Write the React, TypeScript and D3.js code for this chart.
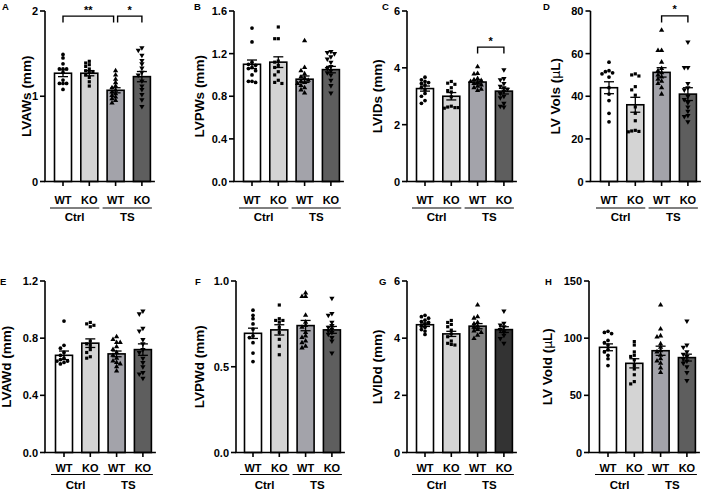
import React from "react";
import * as d3 from "d3";

const genotypes = ["WT", "KO", "WT", "KO"];
const conditions = ["Ctrl", "TS"];
const panelLetters = ["A", "B", "C", "D", "E", "F", "G", "H"];
const yLabels = ["LVAWs (mm)", "LVPWs (mm)", "LVIDs (mm)", "LV Vols (μL)", "LVAWd (mm)", "LVPWd (mm)", "LVIDd (mm)", "LV Vold (μL)"];
const yMax = [2, 1.6, 6, 80, 1.2, 1.0, 6, 150];
const yTicks = [[0, 1, 2], [0, 0.4, 0.8, 1.2, 1.6], [0, 2, 4, 6], [0, 20, 40, 60, 80], [0, 0.4, 0.8, 1.2], [0, 0.5, 1.0], [0, 2, 4, 6], [0, 50, 100, 150]];
const tickDecimals = [0, 1, 0, 0, 1, 1, 0, 0];

const means = [
  [1.27, 1.27, 1.07, 1.23],
  [1.10, 1.12, 0.96, 1.05],
  [3.27, 3.0, 3.5, 3.18],
  [44, 36, 51.2, 41],
  [0.68, 0.765, 0.69, 0.72],
  [0.695, 0.715, 0.74, 0.715],
  [4.47, 4.15, 4.42, 4.3],
  [92, 78, 89, 83],
];
const sems = [
  [0.04, 0.03, 0.03, 0.06],
  [0.04, 0.05, 0.03, 0.03],
  [0.09, 0.13, 0.07, 0.1],
  [2.8, 3.5, 2.2, 3.0],
  [0.03, 0.03, 0.02, 0.04],
  [0.03, 0.03, 0.03, 0.02],
  [0.06, 0.09, 0.09, 0.1],
  [3, 4, 4, 3],
];

const pointsA = [
  [1.49, 1.45, 1.38, 1.32, 1.32, 1.32, 1.28, 1.19, 1.15, 1.15, 1.15, 1.08],
  [1.41, 1.39, 1.37, 1.35, 1.32, 1.3, 1.29, 1.28, 1.25, 1.22, 1.17, 1.12],
  [1.3, 1.25, 1.2, 1.16, 1.12, 1.1, 1.07, 1.05, 1.03, 1.01, 0.99, 0.97, 0.95, 0.92],
  [1.57, 1.54, 1.48, 1.42, 1.38, 1.33, 1.28, 1.25, 1.18, 1.12, 1.08, 1.02, 0.96, 0.88],
];
const pointsB = [
  [1.44, 1.31, 1.12, 1.1, 1.09, 1.07, 1.06, 1.04, 1.0, 0.94, 0.94, 0.93],
  [1.45, 1.34, 1.34, 1.13, 1.12, 1.09, 1.07, 1.03, 1.0, 0.95, 0.93, 0.92],
  [1.32, 1.07, 1.04, 1.01, 0.98, 0.97, 0.95, 0.94, 0.93, 0.92, 0.9, 0.88, 0.86, 0.83],
  [1.22, 1.21, 1.2, 1.17, 1.15, 1.12, 1.08, 1.06, 1.04, 1.02, 1.0, 0.95, 0.9, 0.83],
];
const pointsC = [
  [3.67, 3.58, 3.52, 3.48, 3.45, 3.4, 3.3, 3.22, 3.1, 3.0, 2.85, 2.75],
  [3.52, 3.46, 3.42, 3.3, 3.2, 3.15, 2.98, 2.65, 2.62, 2.6, 2.58, 2.6],
  [4.04, 3.8, 3.78, 3.62, 3.58, 3.55, 3.52, 3.48, 3.45, 3.4, 3.35, 3.3, 3.25, 3.2],
  [3.93, 3.62, 3.58, 3.45, 3.35, 3.3, 3.25, 3.18, 3.1, 3.0, 2.95, 2.75, 2.65, 2.62],
];
const pointsD = [
  [56, 52, 51.5, 51, 50.5, 49, 44, 41, 38, 32, 28],
  [50.5, 50, 49.5, 44.5, 43, 40.5, 35, 32, 28.5, 24, 23.7, 23.5, 23.3],
  [71, 61.5, 61.5, 56, 53, 52, 51, 50, 49, 48, 47, 46, 44, 41],
  [65.5, 53.5, 53.5, 46, 44, 43, 40, 38.5, 37, 35, 33, 31, 30.5, 28],
];
const pointsE = [
  [0.92, 0.75, 0.73, 0.7, 0.68, 0.66, 0.65, 0.64, 0.64, 0.63, 0.62],
  [0.91, 0.9, 0.89, 0.88, 0.78, 0.76, 0.75, 0.72, 0.7, 0.67, 0.66],
  [0.81, 0.79, 0.77, 0.77, 0.74, 0.72, 0.7, 0.68, 0.66, 0.64, 0.63, 0.62, 0.6, 0.57],
  [0.99, 0.97, 0.87, 0.85, 0.79, 0.76, 0.72, 0.7, 0.66, 0.63, 0.6, 0.56, 0.55, 0.52],
];
const pointsF = [
  [0.83, 0.8, 0.78, 0.75, 0.72, 0.68, 0.67, 0.64, 0.58, 0.53],
  [0.86, 0.78, 0.77, 0.77, 0.76, 0.73, 0.7, 0.66, 0.62, 0.57],
  [0.93, 0.91, 0.91, 0.8, 0.76, 0.74, 0.73, 0.7, 0.68, 0.67, 0.65, 0.64, 0.62, 0.61],
  [0.9, 0.81, 0.8, 0.76, 0.74, 0.73, 0.72, 0.71, 0.7, 0.69, 0.67, 0.65, 0.58],
];
const pointsG = [
  [4.8, 4.75, 4.7, 4.63, 4.58, 4.55, 4.5, 4.42, 4.38, 4.3, 4.25, 4.13],
  [4.62, 4.55, 4.48, 4.4, 4.28, 4.15, 4.05, 3.9, 3.82, 3.78, 3.76],
  [5.16, 4.75, 4.7, 4.55, 4.5, 4.42, 4.38, 4.3, 4.25, 4.2, 4.1, 3.99],
  [4.95, 4.52, 4.46, 4.4, 4.3, 4.22, 4.1, 3.99, 3.82],
];
const pointsH = [
  [106, 105, 104, 98, 96, 94, 90, 88, 85, 82, 76],
  [97, 94, 88, 85, 84, 81, 76, 73, 68, 62, 60],
  [129, 108, 102, 101, 95, 92, 89, 88, 85, 82, 80, 78, 74, 70],
  [115, 94, 92, 88, 86, 84, 82, 80, 78, 75, 70, 63],
];
const panelPoints = [pointsA, pointsB, pointsC, pointsD, pointsE, pointsF, pointsG, pointsH];

const sigBrackets = [
  [
    { from: 0, to: 2, level: 1.94, label: "**" },
    { from: 2, to: 3, level: 1.94, label: "*" },
  ],
  [],
  [{ from: 2, to: 3, level: 4.73, label: "*" }],
  [{ from: 2, to: 3, level: 77.7, label: "*" }],
  [], [], [], [],
];

// ---- layout / styles ----
const layout = [
  { axisX: 45, first: 63, labelX: 30.5, letterX: 2, row: 0 },
  { axisX: 234, first: 252, labelX: 204, letterX: 194, row: 0 },
  { axisX: 407, first: 425, labelX: 382, letterX: 382, row: 0 },
  { axisX: 590.5, first: 609, labelX: 560, letterX: 543, row: 0 },
  { axisX: 45, first: 64, labelX: 10.5, letterX: 0, row: 1 },
  { axisX: 236, first: 253, labelX: 204, letterX: 195, row: 1 },
  { axisX: 407, first: 425, labelX: 382, letterX: 379, row: 1 },
  { axisX: 589, first: 608, labelX: 552, letterX: 545, row: 1 },
];
const rows = [
  { top: 11, zero: 181.5, letterY: 9.5, genoY: 22.5, lineY: 26.5, condY: 39.5 },
  { top: 281, zero: 452.5, letterY: 285, genoY: 19, lineY: 22, condY: 36 },
];
const barStep = 26.3;
const barW = 17;
const colorsDefault = ["#ffffff", "#d4d4d4", "#a3a3aa", "#5e5e5e"];
const colorsG = ["#ffffff", "#d4d4d4", "#858585", "#333333"];
const symbols = [d3.symbolCircle, d3.symbolSquare, d3.symbolTriangle, d3.symbolTriangle];
const symbolSizes = [11, 10, 12, 12];
const FONT = "'Liberation Sans', Arial, Helvetica, sans-serif";

function dodge(vals: number[], y: (v: number) => number) {
  const cands = [0, -3.6, 3.6, -7, 7, -1.8, 1.8, -5.3, 5.3];
  const placed: { x: number; y: number }[] = [];
  const out: { x: number; y: number }[] = [];
  vals.forEach((v) => {
    const py = y(v);
    let best = 0;
    let bestD = -1;
    for (const c of cands) {
      let md = Infinity;
      for (const p of placed) {
        const d = Math.hypot(p.x - c, p.y - py);
        if (d < md) md = d;
      }
      if (md >= 3.4) { best = c; bestD = md; break; }
      if (md > bestD) { bestD = md; best = c; }
    }
    placed.push({ x: best, y: py });
    out.push({ x: best, y: py });
  });
  return out;
}

function Panel({ i }: { i: number }) {
  const L = layout[i];
  const R = rows[L.row];
  const y = d3.scaleLinear().domain([0, yMax[i]]).range([R.zero, R.top]);
  const x = d3.scalePoint<number>().domain([0, 1, 2, 3]).range([L.first, L.first + 3 * barStep]);
  const colors = i === 6 ? colorsG : colorsDefault;
  const axisEnd = (x(3) as number) + 13;
  const fmt = d3.format(`.${tickDecimals[i]}f`);
  const label = yLabels[i];
  const muIdx = label.indexOf("μ");
  const sw = 1.6;
  return (
    <g>
      <text x={L.letterX} y={R.letterY} fontSize={9.5} fontWeight="bold" fontFamily={FONT}>{panelLetters[i]}</text>
      <text
        transform={`translate(${L.labelX},${(R.top + R.zero) / 2}) rotate(-90)`}
        textAnchor="middle"
        fontSize={13.5}
        fontWeight="bold"
        fontFamily={FONT}
      >
        {muIdx >= 0 ? (
          <>
            {label.slice(0, muIdx)}
            <tspan fontWeight="normal" fontFamily="'DejaVu Sans', sans-serif" fontSize={12.5}>μ</tspan>
            {label.slice(muIdx + 1)}
          </>
        ) : label}
      </text>
      {/* bars */}
      {means[i].map((m, k) => {
        const cx = x(k) as number;
        return (
          <rect key={"b" + k} x={cx - barW / 2} y={y(m)} width={barW} height={y(0) - y(m)}
            fill={colors[k]} stroke="#000" strokeWidth={sw} />
        );
      })}
      {/* error bars */}
      {means[i].map((m, k) => {
        const cx = x(k) as number;
        const hi = y(m + sems[i][k]);
        const lo = y(m - sems[i][k]);
        return (
          <g key={"e" + k} stroke="#000" strokeWidth={1.3}>
            <line x1={cx} x2={cx} y1={hi} y2={lo} />
            <line x1={cx - 5} x2={cx + 5} y1={hi} y2={hi} />
            <line x1={cx - 5} x2={cx + 5} y1={lo} y2={lo} />
          </g>
        );
      })}
      {/* points */}
      {panelPoints[i].map((vals, k) => {
        const cx = x(k) as number;
        const pos = dodge(vals, y);
        const path = d3.symbol().type(symbols[k]).size(symbolSizes[k])() as string;
        return (
          <g key={"p" + k}>
            {pos.map((p, j) => (
              <path key={j} d={path}
                transform={`translate(${cx + p.x},${p.y})${k === 3 ? " rotate(180)" : ""}`}
                fill="#000" />
            ))}
          </g>
        );
      })}
      {/* y axis */}
      <line x1={L.axisX} x2={L.axisX} y1={R.top} y2={R.zero} stroke="#000" strokeWidth={sw} />
      {yTicks[i].map((t) => (
        <g key={"t" + t}>
          <line x1={L.axisX - 5} x2={L.axisX} y1={y(t)} y2={y(t)} stroke="#000" strokeWidth={sw} />
          <text x={L.axisX - 7} y={y(t)} textAnchor="end" dominantBaseline="central"
            fontSize={11} fontWeight="bold" fontFamily={FONT}>{fmt(t)}</text>
        </g>
      ))}
      {/* x axis */}
      <line x1={L.axisX - sw / 2} x2={axisEnd} y1={R.zero} y2={R.zero} stroke="#000" strokeWidth={sw} />
      {genotypes.map((g, k) => {
        const cx = x(k) as number;
        return (
          <g key={"x" + k}>
            <line x1={cx} x2={cx} y1={R.zero} y2={R.zero + 4.5} stroke="#000" strokeWidth={sw} />
            <text x={cx} y={R.zero + R.genoY} textAnchor="middle" fontSize={11} fontWeight="bold" fontFamily={FONT}>{g}</text>
          </g>
        );
      })}
      {conditions.map((c, ci) => {
        const a = (x(ci * 2) as number) - 13;
        const b = (x(ci * 2 + 1) as number) + 10;
        return (
          <g key={"c" + ci}>
            <line x1={a} x2={b} y1={R.zero + R.lineY} y2={R.zero + R.lineY} stroke="#000" strokeWidth={1} />
            <text x={(a + b) / 2} y={R.zero + R.condY} textAnchor="middle" fontSize={11.5} fontWeight="bold" fontFamily={FONT}>{c}</text>
          </g>
        );
      })}
      {/* significance */}
      {sigBrackets[i].map((s, k) => {
        const others = sigBrackets[i].filter((o, j) => j !== k);
        const leftShared = others.some((o) => o.to === s.from || o.from === s.from);
        const rightShared = others.some((o) => o.from === s.to || o.to === s.to);
        const x1 = (x(s.from) as number) + (leftShared ? 2 : 0);
        const x2 = (x(s.to) as number) - (rightShared ? 2 : 0);
        const yy = y(s.level);
        return (
          <g key={"s" + k}>
            <path d={`M${x1},${yy + 6.5}V${yy}H${x2}V${yy + 6.5}`} fill="none" stroke="#000" strokeWidth={1.4} />
            <text x={(x1 + x2) / 2} y={yy - 2.5} textAnchor="middle" fontSize={11} fontWeight="bold" fontFamily={FONT}>{s.label}</text>
          </g>
        );
      })}
    </g>
  );
}

export default function App() {
  return (
    <svg width={708} height={491} style={{ position: "absolute", left: 0, top: 0, background: "#fff" }}>
      <rect width={708} height={491} fill="#fff" />
      {panelLetters.map((_, i) => (
        <Panel key={i} i={i} />
      ))}
    </svg>
  );
}
